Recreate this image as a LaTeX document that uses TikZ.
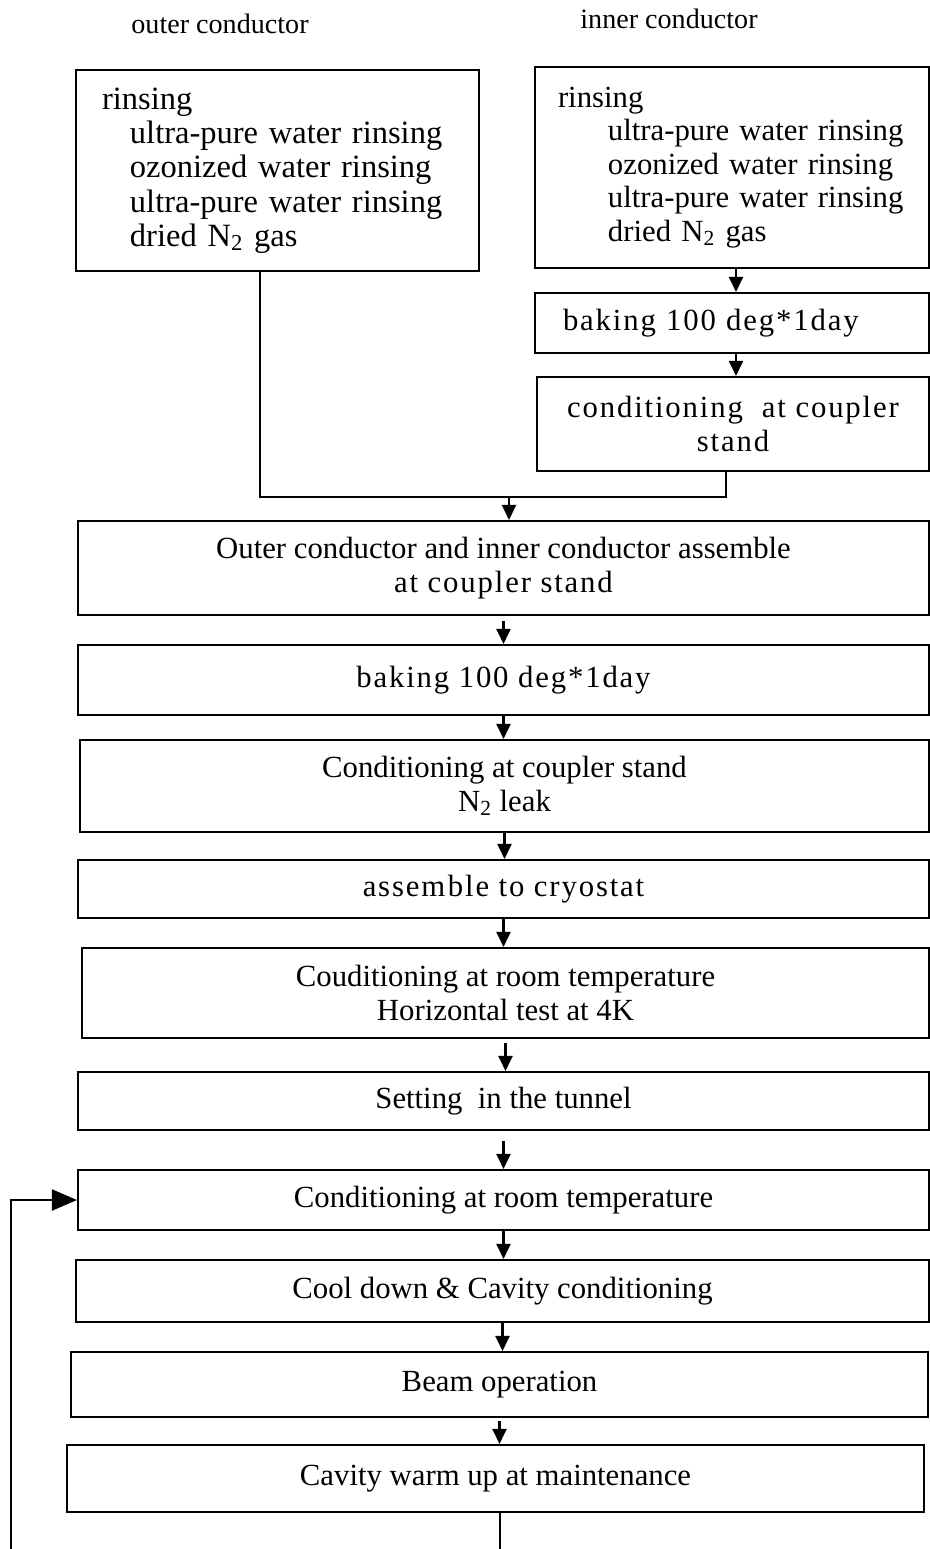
\documentclass[tikz,border=0pt]{standalone}
\usepackage{fontspec}
\setmainfont{Liberation Serif}
\newfontfamily\widefont[LetterSpace=6]{Liberation Serif}
\usetikzlibrary{arrows.meta}
\begin{document}
\begin{tikzpicture}[x=0.02cm, y=-0.02cm,
  box/.style={draw, line width=1.2pt, rectangle, inner sep=0pt, align=center,
    font=\fontsize{17.5}{19}\selectfont},
  sz/.style 2 args={minimum width=#1*0.02cm, minimum height=#2*0.02cm},
  listbox/.style={box, align=left, inner xsep=#1*0.02cm},
  title/.style={font=\fontsize{16}{19}\selectfont},
  flow/.style={line width=1.2pt, -{Triangle[length=0.3cm, width=0.28cm]}},
  wire/.style={line width=1.2pt},
  loop/.style={line width=1.2pt, -{Triangle[length=0.5cm, width=0.42cm]}}]
\useasboundingbox (0,0) rectangle (930,1549);

% column headings
\node[title] (tout) at (220,24) {outer conductor};
\node[title] (tin)  at (669,19) {inner conductor};

% rinsing of both conductors
\node[listbox=26, sz={403}{201}, text width=351*0.02cm,
      font=\fontsize{18.5}{19.5}\selectfont] (orin) at (277.5,170.5)
  {rinsing\\ \hspace*{0.56cm}ultra-pure water rinsing\\ \hspace*{0.56cm}ozonized water rinsing\\
   \hspace*{0.56cm}ultra-pure water rinsing\\ \hspace*{0.56cm}dried N\textsubscript{2} gas};
\node[listbox=23, sz={394}{201}, text width=348*0.02cm] (irin) at (732,167.5)
  {rinsing\\ \hspace*{1cm}ultra-pure water rinsing\\ \hspace*{1cm}ozonized water rinsing\\
   \hspace*{1cm}ultra-pure water rinsing\\ \hspace*{1cm}dried N\textsubscript{2} gas};

% inner conductor only
\node[listbox=28, sz={394}{60}, text width=338*0.02cm] (ibake) at (732,323)
  {\widefont baking 100 deg*1day};
\node[box, sz={392}{94}] (icond) at (733,424)
  {\widefont conditioning\ \ at coupler\\ \widefont stand};

% common sequence
\node[box, sz={851}{94}] (asm)   at (503.5,568)
  {Outer conductor and inner conductor assemble\\ {\widefont at coupler stand}};
\node[box, sz={851}{70}] (bake2) at (503.5,680) {\widefont baking 100 deg*1day};
\node[box, sz={849}{92}] (cn2)   at (504.5,786)
  {Conditioning at coupler stand\\ N\textsubscript{2} leak};
\node[box, sz={851}{58}] (cryo)  at (503.5,889) {\widefont assem\kern1.5pt ble to cryostat};
\node[box, sz={847}{90}] (roomh) at (505.5,993)
  {Couditioning at room temperature\\ Horizontal test at 4K};
\node[box, sz={851}{58}] (tunnel) at (503.5,1101) {Setting\ \ in the tunnel};
\node[box, sz={851}{60}] (roomc) at (503.5,1200) {Conditioning at room temperature};
\node[box, sz={853}{62}] (cool)  at (502.5,1291) {Cool down \& Cavity conditioning};
\node[box, sz={857}{65}] (beam)  at (499.5,1384.5) {Beam operation};
\node[box, sz={857}{67}] (warm)  at (495.5,1478.5) {Cavity warm up at maintenance};

% join of the two branches
\coordinate (join) at (509,497);
\draw[wire] ([xshift=-0.35cm]orin.south) |- (join) -| ([xshift=-0.14cm]icond.south);
\draw[flow] (join) -- (join |- asm.north);

% inner conductor arrows
\draw[flow] ([xshift=0.08cm]irin.south) -- ([xshift=0.08cm]irin.south |- ibake.north);
\draw[flow] ([xshift=0.08cm]ibake.south) -- ([xshift=0.08cm]ibake.south |- icond.north);

% main sequence arrows
\draw[flow, shorten <=0.1cm] (asm.south) -- (asm.south |- bake2.north);
\draw[flow] (bake2.south) -- (bake2.south |- cn2.north);
\draw[flow] (cn2.south) -- (cn2.south |- cryo.north);
\draw[flow] (cryo.south) -- (cryo.south |- roomh.north);
\draw[flow, shorten <=0.08cm] (roomh.south) -- (roomh.south |- tunnel.north);
\draw[flow, shorten <=0.2cm] (tunnel.south) -- (tunnel.south |- roomc.north);
\draw[flow] (roomc.south) -- (roomc.south |- cool.north);
\draw[flow] (cool.south) -- (cool.south |- beam.north);
\draw[flow, shorten <=0.06cm] (beam.south) -- (beam.south |- warm.north);

% return path after maintenance
\coordinate (wb) at (500,1549);
\coordinate (lb) at (11,1549);
\draw[wire] (warm.south -| wb) -- (wb);
\draw[loop] (lb) |- (roomc.west);
\end{tikzpicture}
\end{document}
